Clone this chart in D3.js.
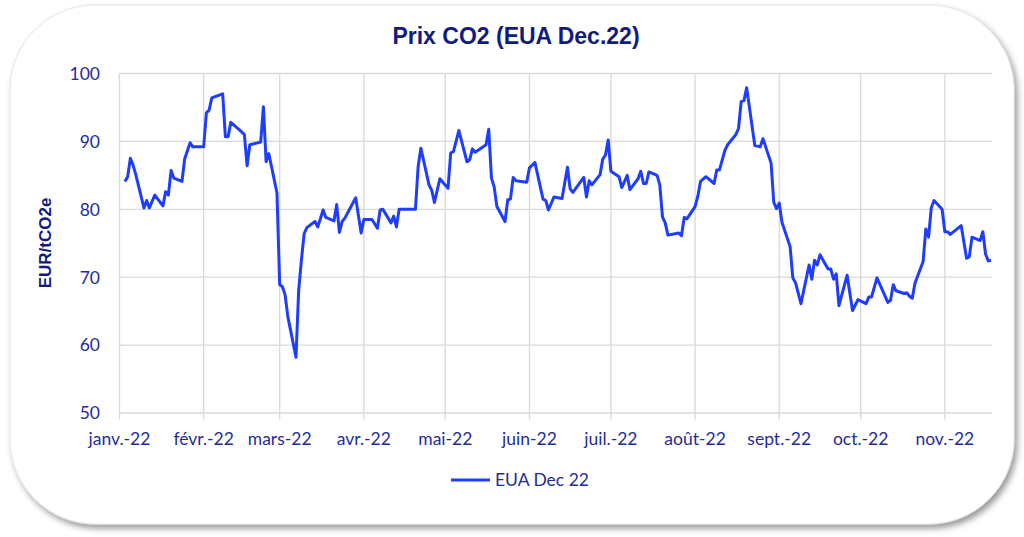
<!DOCTYPE html>
<html>
<head>
<meta charset="utf-8">
<script src="https://cdn.jsdelivr.net/npm/d3@7"></script>
<style>
  html, body { margin: 0; padding: 0; background: #ffffff; }
  svg { display: block; }
</style>
</head>
<body>
<svg id="chart" width="1024" height="537"></svg>
<script>
// ---------------- DATA ----------------
const title = "Prix CO2 (EUA Dec.22)";
const yLabel = "EUR/tCO2e";
const seriesName = "EUA Dec 22";

const dates = [
  "2022-01-03","2022-01-04","2022-01-05","2022-01-06","2022-01-07","2022-01-10","2022-01-11","2022-01-12","2022-01-14","2022-01-17",
  "2022-01-18","2022-01-19","2022-01-20","2022-01-21","2022-01-24","2022-01-25","2022-01-27","2022-01-28","2022-02-01","2022-02-02",
  "2022-02-03","2022-02-04","2022-02-08","2022-02-09","2022-02-10","2022-02-11","2022-02-15","2022-02-16","2022-02-17","2022-02-18",
  "2022-02-22","2022-02-23","2022-02-24","2022-02-25","2022-02-28","2022-03-01","2022-03-02","2022-03-03","2022-03-04","2022-03-07",
  "2022-03-08","2022-03-09","2022-03-10","2022-03-11","2022-03-14","2022-03-15","2022-03-16","2022-03-17","2022-03-18","2022-03-21",
  "2022-03-22","2022-03-23","2022-03-24","2022-03-25","2022-03-29","2022-03-31","2022-04-01","2022-04-04","2022-04-06","2022-04-07",
  "2022-04-08","2022-04-11","2022-04-12","2022-04-13","2022-04-14","2022-04-20","2022-04-21","2022-04-22","2022-04-25","2022-04-26",
  "2022-04-27","2022-04-29","2022-05-02","2022-05-03","2022-05-04","2022-05-06","2022-05-09","2022-05-10","2022-05-11","2022-05-12",
  "2022-05-16","2022-05-17","2022-05-18","2022-05-19","2022-05-20","2022-05-23","2022-05-24","2022-05-25","2022-05-26","2022-05-27",
  "2022-05-31","2022-06-01","2022-06-03","2022-06-06","2022-06-07","2022-06-08","2022-06-10","2022-06-13","2022-06-15","2022-06-16",
  "2022-06-17","2022-06-21","2022-06-22","2022-06-23","2022-06-24","2022-06-27","2022-06-28","2022-06-29","2022-06-30","2022-07-01",
  "2022-07-04","2022-07-05","2022-07-07","2022-07-08","2022-07-11","2022-07-12","2022-07-13","2022-07-14","2022-07-15","2022-07-18",
  "2022-07-19","2022-07-20","2022-07-21","2022-07-22","2022-07-26","2022-07-27","2022-07-28","2022-07-29","2022-08-01","2022-08-02",
  "2022-08-03","2022-08-05","2022-08-08","2022-08-09","2022-08-10","2022-08-12","2022-08-13","2022-08-16","2022-08-17","2022-08-18",
  "2022-08-19","2022-08-20","2022-08-23","2022-08-25","2022-08-26","2022-08-29","2022-08-30","2022-08-31","2022-09-01","2022-09-02",
  "2022-09-05","2022-09-06","2022-09-07","2022-09-09","2022-09-12","2022-09-13","2022-09-14","2022-09-15","2022-09-16","2022-09-19",
  "2022-09-20","2022-09-21","2022-09-22","2022-09-23","2022-09-26","2022-09-28","2022-09-30","2022-10-03","2022-10-04","2022-10-05",
  "2022-10-07","2022-10-11","2022-10-12","2022-10-13","2022-10-14","2022-10-17","2022-10-18","2022-10-19","2022-10-20","2022-10-21",
  "2022-10-24","2022-10-25","2022-10-26","2022-10-27","2022-10-28","2022-10-31","2022-11-01","2022-11-02","2022-11-03","2022-11-07",
  "2022-11-09","2022-11-10","2022-11-11","2022-11-14","2022-11-15","2022-11-16","2022-11-17","2022-11-18"
];

const prices = [
  84.1,84.8,87.5,86.5,85.1,80.2,81.3,80.2,82.1,80.5,
  82.6,82.1,85.7,84.6,84.1,87.4,89.8,89.2,89.2,94.2,
  94.6,96.4,97.0,90.7,90.7,92.8,91.4,91.0,86.4,89.5,
  89.9,95.1,87.0,88.2,82.4,68.9,68.6,67.4,64.2,58.2,
  68.1,72.5,76.4,77.3,78.2,77.4,78.6,79.9,78.8,78.3,
  80.7,76.6,78.2,78.7,81.7,76.5,78.5,78.5,77.2,79.9,
  80.0,78.0,79.0,77.4,80.0,80.0,86.3,89.0,83.6,82.8,
  81.0,84.5,83.1,88.3,88.5,91.6,87.0,87.3,88.9,88.4,
  89.5,91.8,84.6,83.3,80.4,78.2,81.4,81.5,84.7,84.2,
  84.0,86.1,86.9,81.5,81.3,79.9,81.8,81.6,86.2,83.0,
  82.5,84.7,81.8,84.2,83.6,85.1,87.4,88.0,90.2,85.6,
  84.8,83.2,85.0,82.9,84.5,85.6,83.8,83.8,85.5,85.0,
  83.6,78.9,78.0,76.2,76.5,76.1,78.8,78.6,80.4,81.9,
  84.1,84.8,83.8,85.8,85.8,88.7,89.5,91.0,91.9,95.9,
  96.0,97.9,89.4,89.2,90.4,86.8,81.0,80.1,80.9,78.1,
  74.5,69.9,69.2,66.1,71.8,69.7,72.5,71.8,73.3,71.2,
  71.2,69.7,70.5,65.8,70.3,65.1,66.7,66.1,67.1,67.1,
  69.9,66.3,66.6,68.9,68.0,67.6,67.7,67.2,66.9,69.1,
  72.3,77.1,75.9,80.2,81.3,80.0,76.7,76.7,76.3,77.6,
  72.8,73.0,75.9,75.4,76.7,73.4,72.4,72.5
];

const monthTicks = ["2022-01-01","2022-02-01","2022-03-01","2022-04-01","2022-05-01","2022-06-01",
                    "2022-07-01","2022-08-01","2022-09-01","2022-10-01","2022-11-01"];
const monthLabels = ["janv.-22","févr.-22","mars-22","avr.-22","mai-22","juin-22",
                     "juil.-22","août-22","sept.-22","oct.-22","nov.-22"];
const yTicks = [50, 60, 70, 80, 90, 100];
const xDomain = ["2022-01-01", "2022-11-18"];
const yDomain = [50, 100];

// ---------------- CHART ----------------
const parse = d3.utcParse("%Y-%m-%d");
const svg = d3.select("#chart");

const navy = "#1f2c9c";
const titleNavy = "#111a80";
const gridCol = "#d9d9d9";
const lineCol = "#1f3dff";
const tickFont = "Lato, 'Open Sans', sans-serif";

// Frame with shadow
const defs = svg.append("defs");
const f = defs.append("filter").attr("id", "shadow")
  .attr("x", "-5%").attr("y", "-5%").attr("width", "110%").attr("height", "115%");
f.append("feDropShadow").attr("dx", 3).attr("dy", 4).attr("stdDeviation", 3)
  .attr("flood-color", "#000").attr("flood-opacity", 0.4);

svg.append("rect")
  .attr("x", 10).attr("y", 5).attr("width", 1004).attr("height", 519)
  .attr("rx", 85).attr("ry", 85)
  .attr("fill", "#ffffff").attr("stroke", "#e4e4e4").attr("stroke-width", 1)
  .attr("filter", "url(#shadow)");

const x = d3.scaleUtc().domain(xDomain.map(parse)).range([119.5, 991]);
const y = d3.scaleLinear().domain(yDomain).range([413, 73.5]);

// Horizontal gridlines
svg.append("g").selectAll("line").data(yTicks).join("line")
  .attr("x1", x.range()[0]).attr("x2", 992)
  .attr("y1", d => y(d)).attr("y2", d => y(d))
  .attr("stroke", gridCol).attr("stroke-width", 1.3);

// Vertical gridlines (extending below as tick marks)
const tickDates = monthTicks.map(parse);
svg.append("g").selectAll("line").data(tickDates).join("line")
  .attr("x1", d => x(d)).attr("x2", d => x(d))
  .attr("y1", y(yDomain[1])).attr("y2", y(yDomain[0]) + 6.5)
  .attr("stroke", gridCol).attr("stroke-width", 1.3);

// Y tick labels
svg.append("g").selectAll("text").data(yTicks).join("text")
  .attr("x", 100).attr("y", d => y(d)).attr("dy", "0.36em")
  .attr("text-anchor", "end")
  .attr("font-family", tickFont).attr("font-size", 17.5)
  .attr("fill", navy).text(d => d);

// X tick labels
svg.append("g").selectAll("text").data(tickDates).join("text")
  .attr("x", d => x(d)).attr("y", 445)
  .attr("text-anchor", "middle")
  .attr("font-family", tickFont).attr("font-size", 17.5)
  .attr("fill", navy).text((d, i) => monthLabels[i]);

// Line
const data = dates.map((d, i) => ({ date: parse(d), value: prices[i] }));
svg.append("path").datum(data)
  .attr("fill", "none").attr("stroke", lineCol).attr("stroke-width", 3)
  .attr("stroke-linejoin", "round")
  .attr("d", d3.line().x(d => x(d.date)).y(d => y(d.value)));

// Title
svg.append("text")
  .attr("x", 516).attr("y", 43.5).attr("text-anchor", "middle")
  .attr("font-family", "'Liberation Sans', Arial, sans-serif")
  .attr("font-weight", "bold").attr("font-size", 23)
  .attr("fill", titleNavy).text(title);

// Y axis label
svg.append("text")
  .attr("transform", "translate(51,243) rotate(-90)")
  .attr("text-anchor", "middle")
  .attr("font-family", "'Liberation Sans', Arial, sans-serif")
  .attr("font-weight", "bold").attr("font-size", 17)
  .attr("fill", titleNavy).text(yLabel);

// Legend
svg.append("line")
  .attr("x1", 451).attr("x2", 490).attr("y1", 480).attr("y2", 480)
  .attr("stroke", lineCol).attr("stroke-width", 3);
svg.append("text")
  .attr("x", 495).attr("y", 480).attr("dy", "0.36em")
  .attr("font-family", tickFont).attr("font-size", 17.5)
  .attr("fill", navy).text(seriesName);
</script>
</body>
</html>
